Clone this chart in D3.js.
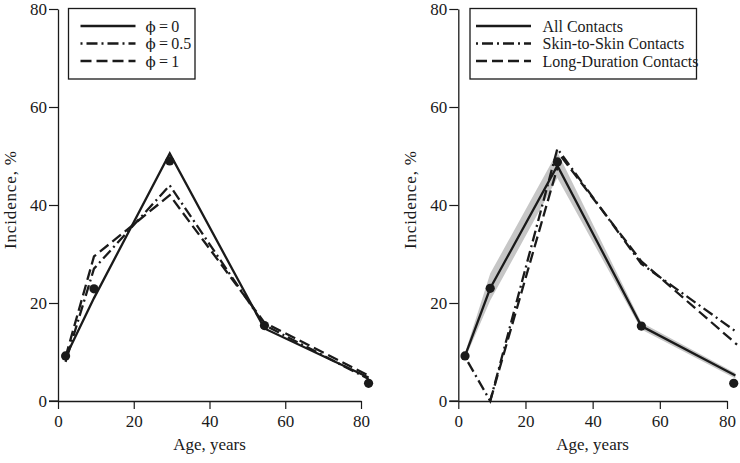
<!DOCTYPE html>
<html><head><meta charset="utf-8">
<script src="https://cdn.jsdelivr.net/npm/d3@7"></script>
<style>
html,body{margin:0;padding:0;background:#fff;}
svg{display:block;font-family:"Liberation Serif","Times New Roman",serif;}
</style></head>
<body><svg id="c" width="740" height="463"></svg>
<script>
// ---- data ----
const xTicks = [0, 20, 40, 60, 80];
const yTicks = [0, 20, 40, 60, 80];
const obsAges = [2, 9.5, 29.5, 54.5, 82];
const obsLeft = [9.2, 22.9, 49, 15.4, 3.6];
const obsRight = [9.2, 23, 48.8, 15.3, 3.6];

const modelAgesLeft = [2, 9.5, 29.5, 54.5, 82];
const phi0 = [9, 21, 50.5, 14.8, 4.8];
const phi05 = [8, 27, 44, 15.5, 4.5];
const phi1 = [9, 29.5, 42, 16, 5.2];
const leftSymbol = "\u03d5";
const leftValues = ["0", "0.5", "1"];

const allAges = [2, 9.5, 29.5, 54.5, 82.5];
const allContacts = [9.2, 23, 48, 15.3, 5.2];
const allLow = [8.6, 20.5, 45.5, 14.6, 4.6];
const allHigh = [9.8, 26, 50.8, 16, 5.7];
const skinAges = [2, 9.5, 29.5, 54.5, 83];
const skinContacts = [9, 0, 51.5, 28, 14];
const longAges = [9.5, 30.5, 54.5, 83];
const longContacts = [0, 50, 28.5, 11.5];
const rightLabels = ["All Contacts", "Skin-to-Skin Contacts", "Long-Duration Contacts"];

// ---- drawing ----
const svg = d3.select("#c");
const ink = "#1a1a1a";
const DASH = "11,5";
const DASHDOT = "2,4,11,4";
const styles = [null, DASHDOT, DASH];

function panel(x0, x1, opts) {
  const x = d3.scaleLinear().domain([0, 80]).range([x0, x1]);
  const y = d3.scaleLinear().domain([0, 80]).range([401, 9]);
  const g = svg.append("g");

  const xa = g.append("g").attr("transform", "translate(0,401)")
    .call(d3.axisBottom(x).tickValues(xTicks).tickSize(8).tickSizeOuter(0).tickPadding(6));
  const ya = g.append("g").attr("transform", `translate(${x0},0)`)
    .call(d3.axisLeft(y).tickValues(yTicks).tickSize(9).tickSizeOuter(0).tickPadding(2));
  [xa, ya].forEach(a => {
    a.select(".domain").attr("stroke", ink).attr("stroke-width", 1.3);
    a.selectAll(".tick line").attr("stroke", ink).attr("stroke-width", 1.2);
    a.selectAll(".tick text").attr("fill", ink).style("font-size", "17px")
      .style("font-family", '"Liberation Serif",serif');
  });
  g.append("line").attr("x1", x0 - 9).attr("x2", x0).attr("y1", 401).attr("y2", 401)
    .attr("stroke", ink).attr("stroke-width", 1.3);

  g.append("text").attr("x", (x(0) + x(80)) / 2).attr("y", 450)
    .attr("text-anchor", "middle").attr("fill", ink).style("font-size", "17px").text("Age, years");
  g.append("text").attr("transform", `translate(${opts.ylabX},200) rotate(-90)`)
    .attr("text-anchor", "middle").attr("dy", "0.35em").attr("fill", ink)
    .attr("textLength", 98).attr("lengthAdjust", "spacing")
    .style("font-size", "17px").text("Incidence, %");

  if (opts.band) {
    const area = d3.area().x((d, i) => x(opts.band.ages[i])).y0((d, i) => y(opts.band.lo[i])).y1((d, i) => y(opts.band.hi[i]));
    g.append("path").datum(opts.band.lo).attr("d", area).attr("fill", "#c6c6c6");
  }

  opts.series.forEach((s, k) => {
    const line = d3.line().x((d, i) => x(s.ages[i])).y(d => y(d));
    g.append("path").datum(s.vals).attr("d", line).attr("fill", "none")
      .attr("stroke", ink).attr("stroke-width", 2.3)
      .attr("stroke-dasharray", styles[k]).attr("stroke-linejoin", "miter");
  });

  g.selectAll("circle.obs").data(opts.obs).join("circle").attr("class", "obs")
    .attr("cx", (d, i) => x(obsAges[i])).attr("cy", d => y(d)).attr("r", 4.6).attr("fill", ink);

  // legend
  const L = opts.legend;
  g.append("rect").attr("x", L.x).attr("y", 8.5).attr("width", L.w).attr("height", 70.5)
    .attr("fill", "#fff").attr("stroke", ink).attr("stroke-width", 1.3);
  L.labels.forEach((lab, k) => {
    const yy = 26 + k * 17.5;
    g.append("line").attr("x1", L.x + L.lx).attr("x2", L.x + L.lx + 55).attr("y1", yy).attr("y2", yy)
      .attr("stroke", ink).attr("stroke-width", 2.3).attr("stroke-dasharray", styles[k]);
    const t = g.append("text").attr("x", L.x + L.tx).attr("y", yy).attr("dy", "0.35em").attr("fill", ink)
      .style("font-size", "16px");
    if (L.symbol) {
      t.append("tspan").style("font-family", '"DejaVu Serif",serif').style("font-size", "15px").text(L.symbol);
      t.append("tspan").text("\u2009=\u2009" + lab);
    } else {
      t.text(lab);
    }
  });
}

panel(58, 361, {
  ylabX: 10,
  obs: obsLeft,
  series: [
    {ages: modelAgesLeft, vals: phi0},
    {ages: modelAgesLeft, vals: phi05},
    {ages: modelAgesLeft, vals: phi1}
  ],
  legend: {x: 68.5, w: 126.5, lx: 12, tx: 77, labels: leftValues, symbol: leftSymbol}
});

panel(458.3, 727, {
  ylabX: 410,
  obs: obsRight,
  band: {ages: allAges, lo: allLow, hi: allHigh},
  series: [
    {ages: allAges, vals: allContacts},
    {ages: skinAges, vals: skinContacts},
    {ages: longAges, vals: longContacts}
  ],
  legend: {x: 470, w: 226.5, lx: 6, tx: 72.5, labels: rightLabels}
});
</script></body></html>
